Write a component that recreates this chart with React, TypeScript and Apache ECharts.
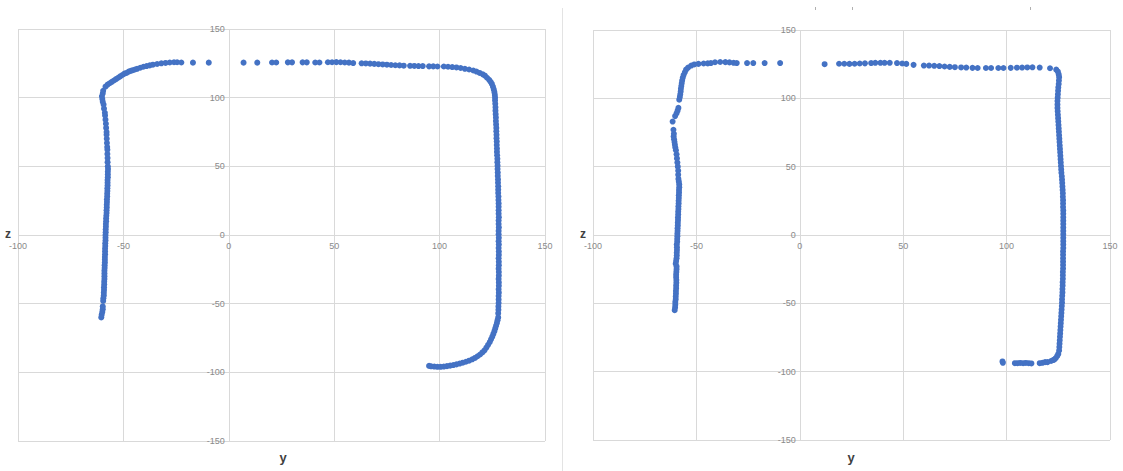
import React, { useEffect, useRef } from "react";
import * as echarts from "echarts";

// ---- axis ticks ----
const xTicks = { min: -100, max: 150, interval: 50 };
const yTicks = { min: -150, max: 150, interval: 50 };

// ---- left chart: [y, z] points ----
const leftA: number[][] = [
  [-60.5,-60],[-60.3,-58],[-60,-56],[-59.8,-54],[-59.8,-52],[-59.6,-48],[-59.5,-46],[-59.3,-44],[-59.3,-42],[-59.2,-40],
  [-59.2,-38],[-59.1,-36],[-59.1,-34],[-59,-32],[-59,-30],[-59,-28],[-59,-26],[-58.9,-24],[-58.9,-22],[-58.8,-20],
  [-58.8,-18],[-58.8,-16],[-58.7,-14],[-58.7,-12],[-58.7,-10],[-58.6,-8],[-58.6,-6],[-58.5,-4],[-58.5,-2],[-58.5,0],
  [-58.4,2],[-58.4,4],[-58.3,6],[-58.3,8],[-58.2,10],[-58.2,12],[-58.1,14],[-58,16],[-58,18],[-57.9,20],
  [-57.9,22],[-57.8,24],[-57.8,26],[-57.7,28],[-57.7,30],[-57.6,32],[-57.6,34],[-57.5,36],[-57.5,38],[-57.5,40],
  [-57.4,42],[-57.4,44],[-57.4,46],[-57.3,48],[-57.4,50],[-57.5,53],[-57.5,56],[-57.6,59],[-57.6,62],[-57.7,64],
  [-57.8,67],[-57.9,70],[-58,73],[-58,75],[-58.2,78],[-58.3,81],[-58.5,84],[-58.7,87],[-58.8,89],[-59.2,92],
  [-59.4,95],[-59.8,97],[-60,99],[-60.2,101],[-59.8,103],[-59.6,105],
];
const leftB: number[][] = [
  [-58.5,108],[-57.5,109.5],[-56.5,110.5],[-55.5,111.5],[-54.5,112.5],[-53.5,113.5],[-52.5,114.5],[-51.5,115.5],
  [-50.5,116.5],[-49.5,117.5],[-48.5,118],[-47.5,119],[-46.5,119.5],[-45.5,120],[-44.5,120.5],[-43.5,121],
  [-42,121.8],[-40.5,122.5],[-39,123],[-37.5,123.5],[-36,124],[-34,124.5],[-32,125],[-30,125.3],[-28,125.6],
  [-26,125.8],[-24.5,125.8],[-22.5,125.6],[-17,125.5],[-9.5,125.5],
];
const leftC: number[][] = [
  [7,125.5],[13.5,125.5],[20.5,125.6],[22.5,125.6],[28,125.7],[30,125.7],[35,125.7],[37,125.7],[41,125.6],
  [43,125.6],[47,125.8],[49,125.8],[51,125.9],[53,125.8],[55,125.6],[57,125.5],[59,125.2],[63,125],[65,124.9],
  [67,124.8],[69,124.6],[71,124.4],[73,124.2],[75,124],[77,123.8],[79,123.6],[81,123.5],[83,123.3],[86,123.2],
  [88,123.1],[90,123],[92,123],[95,122.8],[97,122.8],[99,122.7],[102,122.7],[104,122.5],[106,122.3],[108,122],
  [110,121.6],[112,121],[114,120.5],[116,119.8],[117.5,119],[119,118],[120.5,117],[121.5,116],[122.5,114.5],
  [123.5,113],[124.2,111.5],[124.8,110],[125.3,108],[125.7,106],[126,104],[126.2,102],[126.3,100],
];
const leftD: number[][] = [
  [126.3,98],[126.4,95.5],[126.5,93],[126.5,90.5],[126.6,88],[126.7,85.5],[126.7,83],[126.8,80.5],[126.9,78],
  [126.9,75.5],[127,73],[127,70.5],[127.1,68],[127.1,65.5],[127.2,63],[127.2,60.5],[127.3,58],[127.4,55.5],
  [127.4,53],[127.5,50.5],[127.5,48],[127.6,45.5],[127.6,43],[127.7,40.5],[127.7,38],[127.8,35.5],[127.8,33],
  [127.8,30.5],[127.9,28],[127.9,25.5],[128,23],[128,20.5],[128,18],[128,15.5],[128.1,13],[128,10.5],[128,8],
  [128.1,5.5],[128,3],[128,0.5],[128.1,-2],[128,-4.5],[128.1,-7],[128,-9.5],[128.1,-12],[128.1,-14.5],[128,-17],
  [128.1,-19.5],[128.1,-22],[128,-24.5],[128.1,-27],[128.1,-29.5],[128,-32],[128.1,-34.5],[128.1,-37],[128,-39.5],
  [128.1,-42],[128,-44.5],[128,-47],[128,-49.5],[127.9,-52],[127.9,-54.5],[127.8,-57],
];
const leftE: number[][] = [
  [127.8,-60],[127.5,-62],[127.2,-64],[126.8,-66],[126.4,-68],[126,-70],[125.5,-72],[125,-74],[124.4,-76],
  [123.8,-78],[123,-80],[122.2,-82],[121.3,-84],[120.3,-85.5],[119.2,-87],[118,-88.3],[116.8,-89.5],[115.5,-90.5],
  [114,-91.5],[112.5,-92.3],[111,-93],[109.5,-93.6],[108,-94.2],[106.5,-94.7],[105,-95.1],[103.5,-95.5],
  [102,-95.8],[100.5,-96],[99,-96],[97.5,-95.8],[96,-95.6],[95,-95.3],
];

// ---- right chart: [y, z] points ----
const rightA: number[][] = [
  [-60.5,-55],[-60.3,-53],[-60.2,-51],[-60.2,-49],[-60,-47],[-60,-45],[-59.9,-43],[-59.9,-41],[-59.8,-39],
  [-59.8,-37],[-59.7,-35],[-59.7,-33],[-59.8,-31],[-59.8,-29],[-59.7,-27],[-59.6,-25],[-59.6,-23],[-60,-21],
  [-59.8,-19],[-59.6,-17],[-59.5,-15],[-59.5,-13],[-59.4,-11],[-59.4,-9],[-59.5,-7],[-59.3,-5],[-59.3,-3],
  [-59.2,-1],[-59.2,1],[-59.1,3],[-59.1,5],[-59,7],[-59,9],[-58.9,11],[-58.9,13],[-58.8,15],[-58.8,17],
  [-58.7,19],[-58.7,21],[-58.6,23],[-58.6,25],[-58.5,27],[-58.5,29],[-58.4,31],[-58.4,33],[-58.3,35],
  [-58.3,37],[-58.5,39],[-58.7,41],[-58.8,44],[-58.8,47],[-59,50],[-59.2,53],[-59.4,56],[-59.6,59],[-59.9,62],
  [-60.2,64],[-60.4,66],[-60.6,68],[-60.8,70],[-61,72],[-60.9,74],[-61.1,77],[-61.5,83],[-60.3,87],[-59.6,89],
  [-59.1,91],[-58.7,93],[-58.3,99],[-58,101],[-57.8,103],[-57.6,105],[-57.5,107],[-57.3,109],[-57.1,111],
  [-56.9,113],[-56.6,115],[-56.2,117],[-55.6,119],[-55,121],[-54,122.5],
];
const rightB: number[][] = [
  [-52.5,124],[-51,124.8],[-49,125.2],[-46.5,125.5],[-44.5,125.6],[-43,125.8],[-41,126.4],[-38.5,126.6],
  [-36,126.5],[-34,126.3],[-32,126],[-30.5,125.8],[-25.5,125.8],[-22.5,125.8],[-17,125.8],[-9.5,125.8],
];
const rightC: number[][] = [
  [12,125],[19,125.3],[21.5,125.3],[24,125.2],[26.5,125.3],[29,125.5],[31.5,125.6],[34.5,125.8],[36.5,126],
  [39,126],[41,126],[43.5,126],[47,125.8],[49.5,125.5],[51.5,125.2],[55,124.5],[60,124],[62.5,124],[65,123.8],
  [67.5,123.6],[70,123.3],[72.5,123],[75,122.8],[78,122.6],[80.5,122.5],[83.5,122.3],[86,122.2],[90,122.2],
  [92.5,122.2],[96,122.2],[98.5,122.2],[102,122.3],[105,122.4],[107.5,122.5],[110,122.6],[112.5,122.7],
  [116,122.5],[121,122],
];
const rightD: number[][] = [
  [124,121],[124.8,119.5],[125.2,117.5],[125.4,115.5],[125.3,113],[125.2,110.5],[125,108],[124.9,105.5],
  [124.8,103],[124.7,100.5],[124.6,98],[124.6,95.5],[124.6,93],[124.7,90.5],[124.8,88],[124.9,85.5],[125,83],
  [125.1,80.5],[125.2,78],[125.3,75.5],[125.4,73],[125.5,70.5],[125.6,68],[125.7,65.5],[125.8,63],[125.9,60.5],
  [126,58],[126.1,55.5],[126.2,53],[126.3,50.5],[126.4,48],[126.5,45.5],[126.7,43],[126.8,40.5],[126.9,38],
  [127,35.5],[127.1,33],[127.2,30.5],[127.2,28],[127.3,25.5],[127.3,23],[127.3,20.5],[127.4,18],[127.4,15.5],
  [127.4,13],[127.4,10.5],[127.4,8],[127.4,5.5],[127.4,3],[127.4,0.5],[127.4,-2],[127.4,-4.5],[127.4,-7],
  [127.4,-9.5],[127.3,-12],[127.3,-14.5],[127.3,-17],[127.3,-19.5],[127.3,-22],[127.3,-24.5],[127.2,-27],
  [127.2,-29.5],[127.2,-32],[127.1,-34.5],[127.1,-37],[127,-39.5],[127,-42],[126.9,-44.5],[126.8,-47],
  [126.8,-49.5],[126.7,-52],[126.6,-54.5],[126.5,-57],[126.4,-59.5],[126.3,-62],[126.2,-64.5],[126.1,-67],
  [126,-69.5],[125.9,-72],[125.8,-74.5],[125.7,-77],[125.6,-79.5],[125.5,-82],[125.4,-84.5],[125,-87],
  [124.5,-88.5],[123.8,-90],[123.2,-91],[122.5,-91.5],[121.5,-92.2],
];
const rightE: number[][] = [
  [98,-92.5],[98.2,-93.5],[104,-93.8],[105.3,-93.8],[106.6,-93.6],[108,-93.8],[109.3,-93.6],[110.7,-93.8],
  [112,-94],[116,-93.8],[117.3,-93.5],[118.6,-93],[119.8,-93],
];

const leftPoints = [...leftA, ...leftB, ...leftC, ...leftD, ...leftE];
const rightPoints = [...rightA, ...rightB, ...rightC, ...rightD, ...rightE];

const FONT = "'Liberation Sans', Arial, sans-serif";
const GRID_COLOR = "#d9d9d9";
const LABEL_COLOR = "#8a8a8a";
const DOT = "#4472c4";
const W = 1123;
const H = 471;

const grids = [
  { left: 18, right: 578, top: 29, bottom: 30 },
  { left: 593, right: 13, top: 30, bottom: 31 },
];

const gridLine = { show: true, lineStyle: { color: GRID_COLOR, width: 1 } };

function mainX(gridIndex: number) {
  return {
    type: "value", gridIndex, ...xTicks,
    axisLine: { show: false }, axisTick: { show: false }, axisLabel: { show: false },
    splitLine: gridLine,
  };
}
function mainY(gridIndex: number) {
  return {
    type: "value", gridIndex, ...yTicks,
    axisLine: { show: false }, axisTick: { show: false }, axisLabel: { show: false },
    splitLine: gridLine,
  };
}
function hiddenAxis(gridIndex: number, ticks: any) {
  return { type: "value", gridIndex, ...ticks, show: false };
}
function labelX(gridIndex: number) {
  return {
    type: "value", gridIndex, ...xTicks, position: "bottom",
    axisLine: { show: false }, axisTick: { show: false }, splitLine: { show: false },
    axisLabel: { color: LABEL_COLOR, fontSize: 9, fontFamily: FONT, margin: 6 },
  };
}
function labelY(gridIndex: number) {
  return {
    type: "value", gridIndex, ...yTicks, position: "left",
    axisLine: { show: false }, axisTick: { show: false }, splitLine: { show: false },
    axisLabel: { color: LABEL_COLOR, fontSize: 9, fontFamily: FONT, margin: 4 },
  };
}

export default function App() {
  const ref = useRef<HTMLDivElement>(null);
  useEffect(() => {
    if (!ref.current) return;
    const chart = echarts.init(ref.current, undefined, { renderer: "svg" });
    const series = [
      { type: "scatter", xAxisIndex: 0, yAxisIndex: 0, data: leftPoints, symbolSize: 6, itemStyle: { color: DOT, opacity: 1 } },
      { type: "scatter", xAxisIndex: 1, yAxisIndex: 1, data: rightPoints, symbolSize: 6, itemStyle: { color: DOT, opacity: 1 } },
    ];
    const baseGrids = grids.map((g) => ({ ...g, containLabel: false, outerBoundsMode: "none" }));
    chart.setOption({
      animation: false,
      grid: baseGrids,
      xAxis: [mainX(0), mainX(1)],
      yAxis: [mainY(0), mainY(1)],
      series,
    });
    // zero positions of each plot, taken from the library's own scales
    const zeros = grids.map((_, i) => chart.convertToPixel({ gridIndex: i } as any, [0, 0]) as number[]);
    const yLabelGrids = grids.map((g, i) => ({
      left: zeros[i][0], right: W - zeros[i][0] - 1, top: g.top, bottom: g.bottom,
      containLabel: false, outerBoundsMode: "none",
    }));
    const xLabelGrids = grids.map((g, i) => ({
      left: g.left, right: g.right, top: zeros[i][1] - 1, bottom: H - zeros[i][1],
      containLabel: false, outerBoundsMode: "none",
    }));
    chart.setOption(
      {
        animation: false,
        backgroundColor: "#ffffff",
        grid: [...baseGrids, ...yLabelGrids, ...xLabelGrids],
        xAxis: [mainX(0), mainX(1), hiddenAxis(2, xTicks), hiddenAxis(3, xTicks), labelX(4), labelX(5)],
        yAxis: [mainY(0), mainY(1), labelY(2), labelY(3), hiddenAxis(4, yTicks), hiddenAxis(5, yTicks)],
        series,
        graphic: [
          { type: "line", shape: { x1: 562.5, y1: 8, x2: 562.5, y2: 471 }, style: { stroke: "#e3e3e3", lineWidth: 1 } },
          { type: "line", shape: { x1: 815.5, y1: 7, x2: 815.5, y2: 10 }, style: { stroke: "#b0b0b0", lineWidth: 1 } },
          { type: "line", shape: { x1: 852.5, y1: 7, x2: 852.5, y2: 10 }, style: { stroke: "#b0b0b0", lineWidth: 1 } },
          { type: "line", shape: { x1: 1030.5, y1: 7, x2: 1030.5, y2: 10 }, style: { stroke: "#b0b0b0", lineWidth: 1 } },
          { type: "text", x: 8, y: 234, style: { text: "z", fill: "#404040", font: `bold 12px ${FONT}`, textAlign: "center", textVerticalAlign: "middle" } },
          { type: "text", x: 583, y: 234, style: { text: "z", fill: "#404040", font: `bold 12px ${FONT}`, textAlign: "center", textVerticalAlign: "middle" } },
          { type: "text", x: 283, y: 457, style: { text: "y", fill: "#404040", font: `bold 13px ${FONT}`, textAlign: "center", textVerticalAlign: "middle" } },
          { type: "text", x: 851, y: 457, style: { text: "y", fill: "#404040", font: `bold 13px ${FONT}`, textAlign: "center", textVerticalAlign: "middle" } },
        ],
      },
      { replaceMerge: ["grid", "xAxis", "yAxis"] } as any
    );
    return () => chart.dispose();
  }, []);
  return (
    <div
      ref={ref}
      style={{ position: "absolute", left: 0, top: 0, width: W, height: H, background: "#fff" }}
    />
  );
}
